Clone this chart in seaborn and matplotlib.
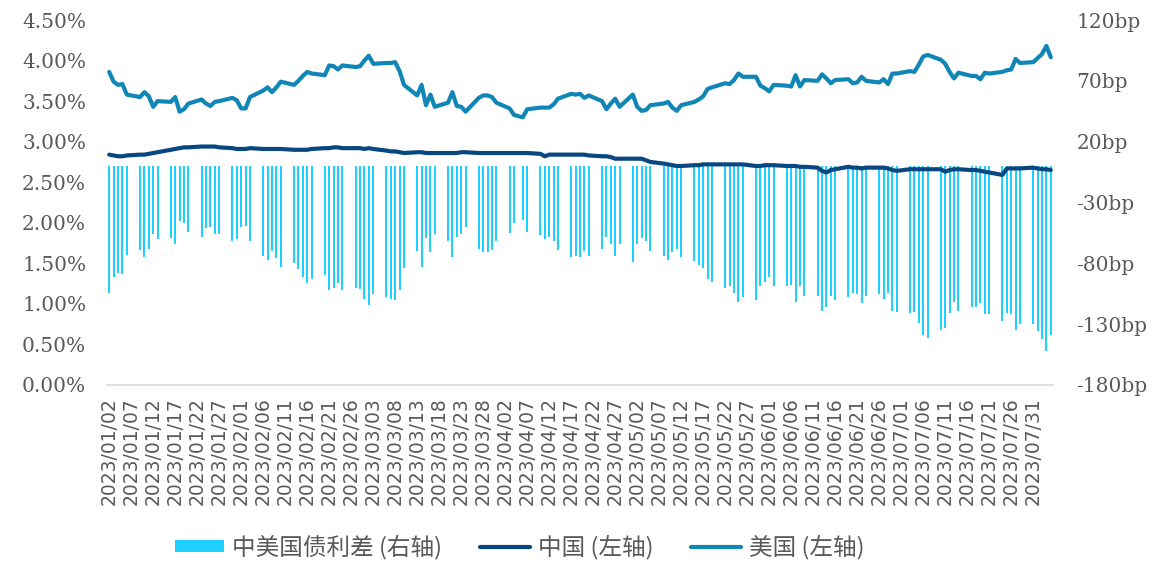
import numpy as np
import pandas as pd
import matplotlib
matplotlib.use('Agg')
import matplotlib.pyplot as plt
from matplotlib.patches import Patch
from matplotlib.lines import Line2D
import seaborn as sns

# trading days shown in the chart (5 per week, Apr 5 missing)
dates = pd.bdate_range('2023-01-02', '2023-08-04').drop(pd.Timestamp('2023-04-05'))

# China 10Y yield, %
china_yield = [
    2.84, 2.83, 2.82, 2.82, 2.83,
    2.84, 2.84, 2.85, 2.86, 2.87,
    2.90, 2.91, 2.92, 2.93, 2.93,
    2.94, 2.94, 2.94, 2.94, 2.93,
    2.92, 2.91, 2.91, 2.91, 2.92,
    2.91, 2.91, 2.91, 2.91, 2.91,
    2.90, 2.90, 2.90, 2.90, 2.91,
    2.92, 2.92, 2.93, 2.93, 2.92,
    2.92, 2.92, 2.91, 2.92, 2.91,
    2.89, 2.88, 2.88, 2.87, 2.86,
    2.87, 2.87, 2.86, 2.86, 2.86,
    2.86, 2.86, 2.86, 2.87, 2.87,
    2.86, 2.86, 2.86, 2.86, 2.86,
    2.86, 2.86, 2.86, 2.86,
    2.85, 2.82, 2.84, 2.84, 2.84,
    2.84, 2.84, 2.84, 2.84, 2.83,
    2.82, 2.82, 2.81, 2.79, 2.79,
    2.79, 2.79, 2.79, 2.77, 2.75,
    2.73, 2.72, 2.71, 2.70, 2.70,
    2.71, 2.71, 2.72, 2.72, 2.72,
    2.72, 2.72, 2.72, 2.72, 2.72,
    2.70, 2.70, 2.71, 2.71, 2.71,
    2.70, 2.70, 2.70, 2.69, 2.69,
    2.68, 2.64, 2.62, 2.65, 2.66,
    2.69, 2.68, 2.68, 2.67, 2.68,
    2.68, 2.68, 2.67, 2.65, 2.64,
    2.66, 2.66, 2.66, 2.66, 2.66,
    2.66, 2.63, 2.65, 2.66, 2.66,
    2.65, 2.65, 2.64, 2.63, 2.62,
    2.59, 2.67, 2.67, 2.67, 2.67,
    2.68, 2.67, 2.66, 2.66, 2.65,
]

# US 10Y yield, %
us_yield = [
    3.86, 3.74, 3.70, 3.71, 3.58,
    3.55, 3.61, 3.56, 3.43, 3.50,
    3.49, 3.55, 3.37, 3.40, 3.47,
    3.52, 3.47, 3.44, 3.49, 3.50,
    3.54, 3.51, 3.41, 3.41, 3.55,
    3.63, 3.67, 3.61, 3.67, 3.74,
    3.70, 3.75, 3.81, 3.86, 3.84,
    3.82, 3.94, 3.93, 3.89, 3.94,
    3.92, 3.93, 4.00, 4.06, 3.96,
    3.97, 3.97, 3.98, 3.87, 3.70,
    3.57, 3.70, 3.45, 3.58, 3.43,
    3.48, 3.61, 3.44, 3.43, 3.37,
    3.54, 3.57, 3.57, 3.55, 3.48,
    3.41, 3.33, 3.30, 3.40,
    3.42, 3.42, 3.42, 3.46, 3.53,
    3.59, 3.58, 3.59, 3.54, 3.57,
    3.50, 3.40, 3.47, 3.53, 3.43,
    3.58, 3.43, 3.38, 3.39, 3.45,
    3.47, 3.49, 3.42, 3.38, 3.45,
    3.49, 3.52, 3.56, 3.65, 3.67,
    3.72, 3.71, 3.76, 3.84, 3.80,
    3.80, 3.69, 3.66, 3.62, 3.70,
    3.69, 3.68, 3.82, 3.68, 3.76,
    3.75, 3.83, 3.78, 3.72, 3.76,
    3.77, 3.72, 3.73, 3.80, 3.75,
    3.73, 3.77, 3.71, 3.84, 3.84,
    3.87, 3.86, 3.95, 4.05, 4.07,
    4.01, 3.96, 3.86, 3.78, 3.85,
    3.81, 3.81, 3.77, 3.85, 3.84,
    3.86, 3.88, 3.89, 4.02, 3.97,
    3.98, 4.03, 4.08, 4.18, 4.04,
]

# China - US spread, bp (right axis)
spread_bp = [
    -104, -91, -88, -89, -73,
    -69, -75, -68, -56, -60,
    -59, -64, -45, -47, -54,
    -58, -51, -50, -56, -56,
    -62, -60, -50, -49, -62,
    -74, -77, -70, -76, -83,
    -80, -85, -91, -96, -93,
    -90, -102, -100, -96, -102,
    -100, -101, -109, -114, -105,
    -108, -109, -110, -102, -84,
    -70, -83, -59, -71, -56,
    -62, -75, -58, -56, -50,
    -68, -71, -71, -69, -62,
    -55, -47, -44, -54,
    -57, -60, -58, -62, -69,
    -75, -74, -75, -70, -74,
    -68, -58, -64, -74, -64,
    -79, -64, -59, -62, -70,
    -74, -77, -71, -68, -75,
    -78, -81, -84, -93, -95,
    -100, -99, -104, -112, -108,
    -110, -99, -95, -91, -99,
    -99, -98, -112, -99, -107,
    -107, -119, -116, -107, -110,
    -108, -104, -105, -113, -107,
    -105, -109, -104, -119, -120,
    -121, -120, -129, -139, -141,
    -135, -133, -121, -112, -119,
    -116, -116, -113, -122, -122,
    -127, -121, -122, -135, -130,
    -130, -136, -142, -152, -139,
]

left_ticks = [0.0, 0.5, 1.0, 1.5, 2.0, 2.5, 3.0, 3.5, 4.0, 4.5]
right_ticks = [-180, -130, -80, -30, 20, 70, 120]
x_ticks = pd.date_range('2023-01-02', '2023-07-31', freq='5D')
series_names = ['中美国债利差 (右轴)', '中国 (左轴)', '美国 (左轴)']

bar_color = '#1ED0FF'
cn_color = '#08477F'
us_color = '#1086B6'
text_color = '#595959'

df = pd.DataFrame({'date': dates, 'cn': china_yield, 'us': us_yield, 'spread': spread_bp})

sns.set_style('white')
plt.rcParams['font.family'] = ['Noto Sans CJK SC', 'DejaVu Sans']

fig, ax = plt.subplots(figsize=(11.6, 5.65), dpi=100)
fig.subplots_adjust(left=107 / 1160, right=1053 / 1160, bottom=1 - 385 / 565, top=1 - 20 / 565)
ax2 = ax.twinx()

ax2.bar(df['date'], df['spread'], width=0.42, color=bar_color, linewidth=0, antialiased=False)
sns.lineplot(data=df, x='date', y='cn', ax=ax, color=cn_color, linewidth=3)
sns.lineplot(data=df, x='date', y='us', ax=ax, color=us_color, linewidth=3)
ax.set_zorder(ax2.get_zorder() + 1)
ax.patch.set_visible(False)

ax.set_xlim(dates[0] - pd.Timedelta(hours=12), dates[-1] + pd.Timedelta(hours=12))
ax.set_ylim(0, 4.5)
ax2.set_ylim(-180, 120)
ax.set_xlabel('')
ax.set_ylabel('')

ax.set_xticks(x_ticks)
ax.set_xticklabels([d.strftime('%Y/%m/%d') for d in x_ticks], rotation=90,
                   family='DejaVu Sans', fontsize=13.5, color=text_color)
ax.set_yticks(left_ticks)
ax.set_yticklabels(['%.2f%%' % v for v in left_ticks], family='DejaVu Serif',
                   fontsize=14.5, color=text_color)
ax2.set_yticks(right_ticks)
ax2.set_yticklabels(['%dbp' % v for v in right_ticks], family='DejaVu Serif',
                    fontsize=14.5, color=text_color)

ax.tick_params(axis='x', length=0, pad=9)
ax.tick_params(axis='y', length=0, pad=15)
ax2.tick_params(axis='y', length=0, pad=17)

for a in (ax, ax2):
    for side in ('top', 'left', 'right', 'bottom'):
        a.spines[side].set_visible(False)
ax.spines['bottom'].set_visible(True)
ax.spines['bottom'].set_color('#D9D9D9')
ax.spines['bottom'].set_linewidth(1.2)

handles = [Patch(facecolor=bar_color, edgecolor='none'),
           Line2D([], [], color=cn_color, linewidth=3),
           Line2D([], [], color=us_color, linewidth=3)]
fig.legend(handles, series_names, ncol=3, loc='center', bbox_to_anchor=(0.448, 0.032),
           frameon=False, prop={'family': ['Noto Sans CJK SC', 'DejaVu Sans'], 'size': 17},
           labelcolor=text_color, handlelength=2.1, handleheight=0.45, handletextpad=0.35,
           columnspacing=1.6)

fig.savefig('out.png', dpi=100)
